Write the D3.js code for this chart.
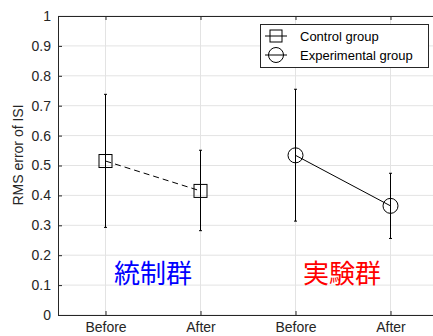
<!DOCTYPE html>
<html>
<head>
<meta charset="utf-8">
<script src="https://cdn.jsdelivr.net/npm/d3@7"></script>
<style>
  body { margin: 0; background: #fff; }
  svg { display: block; }
  text { font-family: "Liberation Sans", Arial, Helvetica, sans-serif; }
</style>
</head>
<body>
<svg id="chart" width="433" height="336"></svg>
<script>
// data
var xLabels = ["Before", "After", "Before", "After"];
var yTicks = [0, 0.1, 0.2, 0.3, 0.4, 0.5, 0.6, 0.7, 0.8, 0.9, 1];
var controlX = [1, 2];
var controlMean = [0.515, 0.415];
var controlLow = [0.293, 0.282];
var controlHigh = [0.738, 0.551];
var expX = [3, 4];
var expMean = [0.534, 0.365];
var expLow = [0.314, 0.256];
var expHigh = [0.755, 0.474];
var seriesNames = ["Control group", "Experimental group"];
var groupTags = ["統制群", "実験群"];

var svg = d3.select("#chart");
var margin = {left: 58, top: 16, bottom: 21};
var H = 336;

var x = d3.scaleLinear().domain([0.5, 4.5]).range([58, 438]);
var y = d3.scaleLinear().domain([0, 1]).range([H - margin.bottom, margin.top]);

var axCol = "#262626";

// grid
svg.append("g").selectAll("line.gy").data(yTicks).join("line")
	.attr("x1", x(0.5)).attr("x2", x(4.5))
	.attr("y1", function(d){ return y(d); }).attr("y2", function(d){ return y(d); })
	.attr("stroke", "#e3e3e3").attr("stroke-width", 1);
svg.append("g").selectAll("line.gx").data([1, 2, 3, 4]).join("line")
	.attr("x1", function(d){ return x(d); }).attr("x2", function(d){ return x(d); })
	.attr("y1", y(0)).attr("y2", y(1))
	.attr("stroke", "#e3e3e3").attr("stroke-width", 1);

// axes (ticks inward, like matlab)
var yAxis = svg.append("g").attr("transform", "translate(" + x(0.5) + ",0)")
	.call(d3.axisLeft(y).tickValues(yTicks).tickSize(-4).tickPadding(7)
		.tickFormat(function(d){ return d === 0 || d === 1 ? d3.format("d")(d) : d3.format(".1f")(d); }));
var xAxis = svg.append("g").attr("transform", "translate(0," + y(0) + ")")
	.call(d3.axisBottom(x).tickValues([1, 2, 3, 4]).tickSize(-4).tickPadding(7)
		.tickFormat(function(d, i){ return xLabels[i]; }));
var topAxis = svg.append("g").attr("transform", "translate(0," + y(1) + ")")
	.call(d3.axisTop(x).tickValues([1, 2, 3, 4]).tickSize(-4).tickFormat(""));
[yAxis, xAxis, topAxis].forEach(function(a){
	a.selectAll("path,line").attr("stroke", axCol);
	a.selectAll("text").attr("fill", axCol).style("font-size", "14px")
		.style("font-family", "'Liberation Sans', Arial, sans-serif");
});
yAxis.select(".domain").attr("d", "M0.5," + y(0) + "V" + y(1));

svg.append("text")
	.attr("transform", "translate(23,155) rotate(-90)")
	.attr("text-anchor", "middle")
	.attr("fill", axCol).style("font-size", "14px")
	.text("RMS error of ISI");

// error bars
function errorBars(xs, lo, hi){
	var g = svg.append("g").attr("stroke", "#000").attr("stroke-width", 1);
	xs.forEach(function(xv, i){
		g.append("line").attr("x1", x(xv)).attr("x2", x(xv)).attr("y1", y(lo[i])).attr("y2", y(hi[i]));
		[lo[i], hi[i]].forEach(function(v){
			g.append("line").attr("x1", x(xv) - 1.5).attr("x2", x(xv) + 1.5).attr("y1", y(v)).attr("y2", y(v));
		});
	});
}
errorBars(controlX, controlLow, controlHigh);
errorBars(expX, expLow, expHigh);

var line = d3.line().x(function(d){ return x(d[0]); }).y(function(d){ return y(d[1]); });
svg.append("path").attr("d", line(d3.zip(controlX, controlMean)))
	.attr("fill", "none").attr("stroke", "#000").attr("stroke-dasharray", "6,4");
svg.append("path").attr("d", line(d3.zip(expX, expMean)))
	.attr("fill", "none").attr("stroke", "#000");

svg.append("g").selectAll("rect").data(d3.zip(controlX, controlMean)).join("rect")
	.attr("x", function(d){ return x(d[0]) - 6.5; }).attr("y", function(d){ return y(d[1]) - 6.5; })
	.attr("width", 13).attr("height", 13)
	.attr("fill", "none").attr("stroke", "#000");
svg.append("g").selectAll("circle").data(d3.zip(expX, expMean)).join("circle")
	.attr("cx", function(d){ return x(d[0]); }).attr("cy", function(d){ return y(d[1]); })
	.attr("r", 7.5).attr("fill", "none").attr("stroke", "#000");

// group tags
var tagColors = ["#0000ff", "#ff0000"];
svg.selectAll("text.tag").data(groupTags).join("text")
	.attr("class", "tag")
	.attr("x", function(d, i){ return [153, 342][i]; })
	.attr("y", 283)
	.attr("text-anchor", "middle")
	.attr("fill", function(d, i){ return tagColors[i]; })
	.style("font-family", "'Noto Sans CJK JP', sans-serif")
	.style("font-size", "26px")
	.text(function(d){ return d; });

// legend
var lg = svg.append("g");
lg.append("rect").attr("x", 260.5).attr("y", 24.5).attr("width", 168).attr("height", 43)
	.attr("fill", "#fff").attr("stroke", axCol);
seriesNames.forEach(function(name, i){
	var cy = 36 + i * 19;
	lg.append("line").attr("x1", 265).attr("x2", 287).attr("y1", cy).attr("y2", cy).attr("stroke", "#000");
	if(i === 0)
		lg.append("rect").attr("x", 270).attr("y", cy - 6).attr("width", 12).attr("height", 12)
			.attr("fill", "none").attr("stroke", "#000");
	else
		lg.append("circle").attr("cx", 276).attr("cy", cy).attr("r", 7.5)
			.attr("fill", "none").attr("stroke", "#000");
	lg.append("text").attr("x", 300).attr("y", cy + 4.5)
		.attr("fill", "#000").style("font-size", "13px").text(name);
});
</script>
</body>
</html>
